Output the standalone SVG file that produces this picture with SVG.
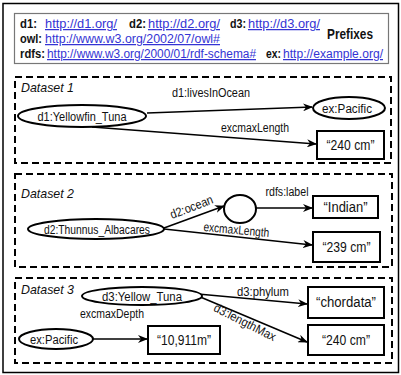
<svg xmlns="http://www.w3.org/2000/svg" width="401" height="375" viewBox="0 0 401 375">
  <style>
    text { font-family: "Liberation Sans", Arial, sans-serif; fill: #111; }
    .pfx { font-size: 12.5px; }
    .b { font-weight: bold; }
    .link { fill: #3434d4; text-decoration: underline; }
    .lbl { font-size: 12.5px; }
    .lit { font-size: 14px; }
    .ds { font-size: 13px; font-style: italic; }
    .node { fill: #fff; stroke: #000; stroke-width: 2; }
    .frame { fill: none; stroke: #000; stroke-width: 2; stroke-dasharray: 7 4; }
    .edge { fill: none; stroke: #000; stroke-width: 1.6; marker-end: url(#arrow); }
  </style>
  <defs>
    <marker id="arrow" viewBox="0 0 10 8" refX="9" refY="4" markerWidth="10" markerHeight="8" markerUnits="userSpaceOnUse" orient="auto">
      <path d="M0,0 L10,4 L0,8 L3,4 z" fill="#000"/>
    </marker>
  </defs>

  <rect x="0" y="0" width="401" height="375" fill="#fff"/>
  <!-- outer border -->
  <rect x="3" y="3.5" width="395.5" height="369" fill="none" stroke="#000" stroke-width="1.5"/>

  <!-- prefix legend -->
  <g id="prefixes">
    <rect x="14.5" y="13.5" width="374" height="50" fill="#fff" stroke="#777" stroke-width="1.2"/>
    <text class="pfx b" x="20" y="28" textLength="17" lengthAdjust="spacingAndGlyphs">d1:</text>
    <text class="pfx link" x="45" y="28" textLength="72" lengthAdjust="spacingAndGlyphs">http://d1.org/</text>
    <text class="pfx b" x="129" y="28" textLength="17" lengthAdjust="spacingAndGlyphs">d2:</text>
    <text class="pfx link" x="148" y="28" textLength="72" lengthAdjust="spacingAndGlyphs">http://d2.org/</text>
    <text class="pfx b" x="230" y="28" textLength="16" lengthAdjust="spacingAndGlyphs">d3:</text>
    <text class="pfx link" x="248" y="28" textLength="72" lengthAdjust="spacingAndGlyphs">http://d3.org/</text>
    <text class="pfx b" x="20" y="43" textLength="22" lengthAdjust="spacingAndGlyphs">owl:</text>
    <text class="pfx link" x="45" y="43" textLength="175" lengthAdjust="spacingAndGlyphs">http://www.w3.org/2002/07/owl#</text>
    <text class="pfx b" x="20" y="58" textLength="25" lengthAdjust="spacingAndGlyphs">rdfs:</text>
    <text class="pfx link" x="47" y="58" textLength="209" lengthAdjust="spacingAndGlyphs">http://www.w3.org/2000/01/rdf-schema#</text>
    <text class="pfx b" x="266" y="58" textLength="15" lengthAdjust="spacingAndGlyphs">ex:</text>
    <text class="pfx link" x="283" y="58" textLength="100" lengthAdjust="spacingAndGlyphs">http://example.org/</text>
    <text class="b" x="327" y="39" font-size="14.5" textLength="46" lengthAdjust="spacingAndGlyphs">Prefixes</text>
  </g>

  <!-- dataset frames -->
  <g id="dataset1">
    <rect class="frame" x="15" y="77" width="376" height="86"/>
    <text class="ds" x="21" y="92" textLength="53" lengthAdjust="spacingAndGlyphs">Dataset 1</text>
  </g>
  <g id="dataset2">
    <rect class="frame" x="15" y="174" width="377" height="93"/>
    <text class="ds" x="21" y="198" textLength="53" lengthAdjust="spacingAndGlyphs">Dataset 2</text>
  </g>
  <g id="dataset3">
    <rect class="frame" x="15" y="278" width="377" height="85"/>
    <text class="ds" x="21" y="294" textLength="53" lengthAdjust="spacingAndGlyphs">Dataset 3</text>
  </g>

  <!-- connectors -->
  <g id="connectors">
    <line class="edge" x1="147" y1="113" x2="312" y2="107"/>
    <line class="edge" x1="92" y1="127" x2="316" y2="144"/>
    <line class="edge" x1="164" y1="228" x2="224" y2="206"/>
    <line class="edge" x1="256" y1="208" x2="312" y2="208"/>
    <line class="edge" x1="164" y1="229" x2="312" y2="245"/>
    <line class="edge" x1="198" y1="294" x2="307" y2="304"/>
    <line class="edge" x1="198" y1="296" x2="307" y2="342"/>
    <line class="edge" x1="93" y1="339" x2="147" y2="339"/>

    <text class="lbl" x="211" y="97" text-anchor="middle" textLength="78" lengthAdjust="spacingAndGlyphs">d1:livesInOcean</text>
    <text class="lbl" x="255" y="132" text-anchor="middle" textLength="68" lengthAdjust="spacingAndGlyphs">excmaxLength</text>
    <text class="lbl" x="0" y="0" text-anchor="middle" textLength="45" lengthAdjust="spacingAndGlyphs" transform="translate(193,211) rotate(-21)">d2:ocean</text>
    <text class="lbl" x="287" y="196" text-anchor="middle" textLength="43" lengthAdjust="spacingAndGlyphs">rdfs:label</text>
    <text class="lbl" x="0" y="0" text-anchor="middle" textLength="66" lengthAdjust="spacingAndGlyphs" transform="translate(236,234) rotate(5)">excmaxLength</text>
    <text class="lbl" x="263" y="296" text-anchor="middle" textLength="52" lengthAdjust="spacingAndGlyphs">d3:phylum</text>
    <text class="lbl" x="0" y="0" text-anchor="middle" textLength="68" lengthAdjust="spacingAndGlyphs" transform="translate(243,326) rotate(27)">d3:lengthMax</text>
    <text class="lbl" x="112" y="318" text-anchor="middle" textLength="64" lengthAdjust="spacingAndGlyphs">excmaxDepth</text>
  </g>

  <!-- nodes -->
  <g id="d1-yellowfin-tuna">
    <ellipse class="node" cx="82" cy="116" rx="64" ry="11"/>
    <text class="lbl" x="82" y="120.5" text-anchor="middle" textLength="89" lengthAdjust="spacingAndGlyphs">d1:Yellowfin_Tuna</text>
  </g>
  <g id="d1-ex-pacific">
    <ellipse class="node" cx="349" cy="108" rx="36" ry="11"/>
    <text class="lbl" x="347" y="112.5" text-anchor="middle" textLength="50" lengthAdjust="spacingAndGlyphs">ex:Pacific</text>
  </g>
  <g id="d1-length">
    <rect class="node" x="317" y="131" width="67" height="28"/>
    <text class="lit" x="350.5" y="150" text-anchor="middle" textLength="48" lengthAdjust="spacingAndGlyphs">“240 cm”</text>
  </g>

  <g id="d2-thunnus-albacares">
    <ellipse class="node" cx="96" cy="229" rx="68" ry="10"/>
    <text class="lbl" x="97" y="233.5" text-anchor="middle" textLength="106" lengthAdjust="spacingAndGlyphs">d2:Thunnus_Albacares</text>
  </g>
  <g id="d2-blank-node">
    <ellipse class="node" cx="240" cy="209" rx="16" ry="14"/>
  </g>
  <g id="d2-indian">
    <rect class="node" x="313" y="196" width="65" height="22"/>
    <text class="lit" x="345.5" y="212" text-anchor="middle" textLength="44" lengthAdjust="spacingAndGlyphs">“Indian”</text>
  </g>
  <g id="d2-length">
    <rect class="node" x="313" y="232" width="67" height="30"/>
    <text class="lit" x="346.5" y="252" text-anchor="middle" textLength="48" lengthAdjust="spacingAndGlyphs">“239 cm”</text>
  </g>

  <g id="d3-yellow-tuna">
    <ellipse class="node" cx="142" cy="296" rx="60" ry="9"/>
    <text class="lbl" x="142" y="300.5" text-anchor="middle" textLength="80" lengthAdjust="spacingAndGlyphs">d3:Yellow_Tuna</text>
  </g>
  <g id="d3-chordata">
    <rect class="node" x="308" y="287" width="76" height="31"/>
    <text class="lit" x="346" y="307" text-anchor="middle" textLength="60" lengthAdjust="spacingAndGlyphs">“chordata”</text>
  </g>
  <g id="d3-length">
    <rect class="node" x="308" y="325" width="76" height="30"/>
    <text class="lit" x="346" y="345" text-anchor="middle" textLength="48" lengthAdjust="spacingAndGlyphs">“240 cm”</text>
  </g>
  <g id="d3-ex-pacific">
    <ellipse class="node" cx="56" cy="339" rx="37" ry="10"/>
    <text class="lbl" x="54" y="343.5" text-anchor="middle" textLength="48" lengthAdjust="spacingAndGlyphs">ex:Pacific</text>
  </g>
  <g id="d3-depth">
    <rect class="node" x="148" y="326" width="72" height="28"/>
    <text class="lit" x="184" y="345" text-anchor="middle" textLength="54" lengthAdjust="spacingAndGlyphs">“10,911m”</text>
  </g>
</svg>
